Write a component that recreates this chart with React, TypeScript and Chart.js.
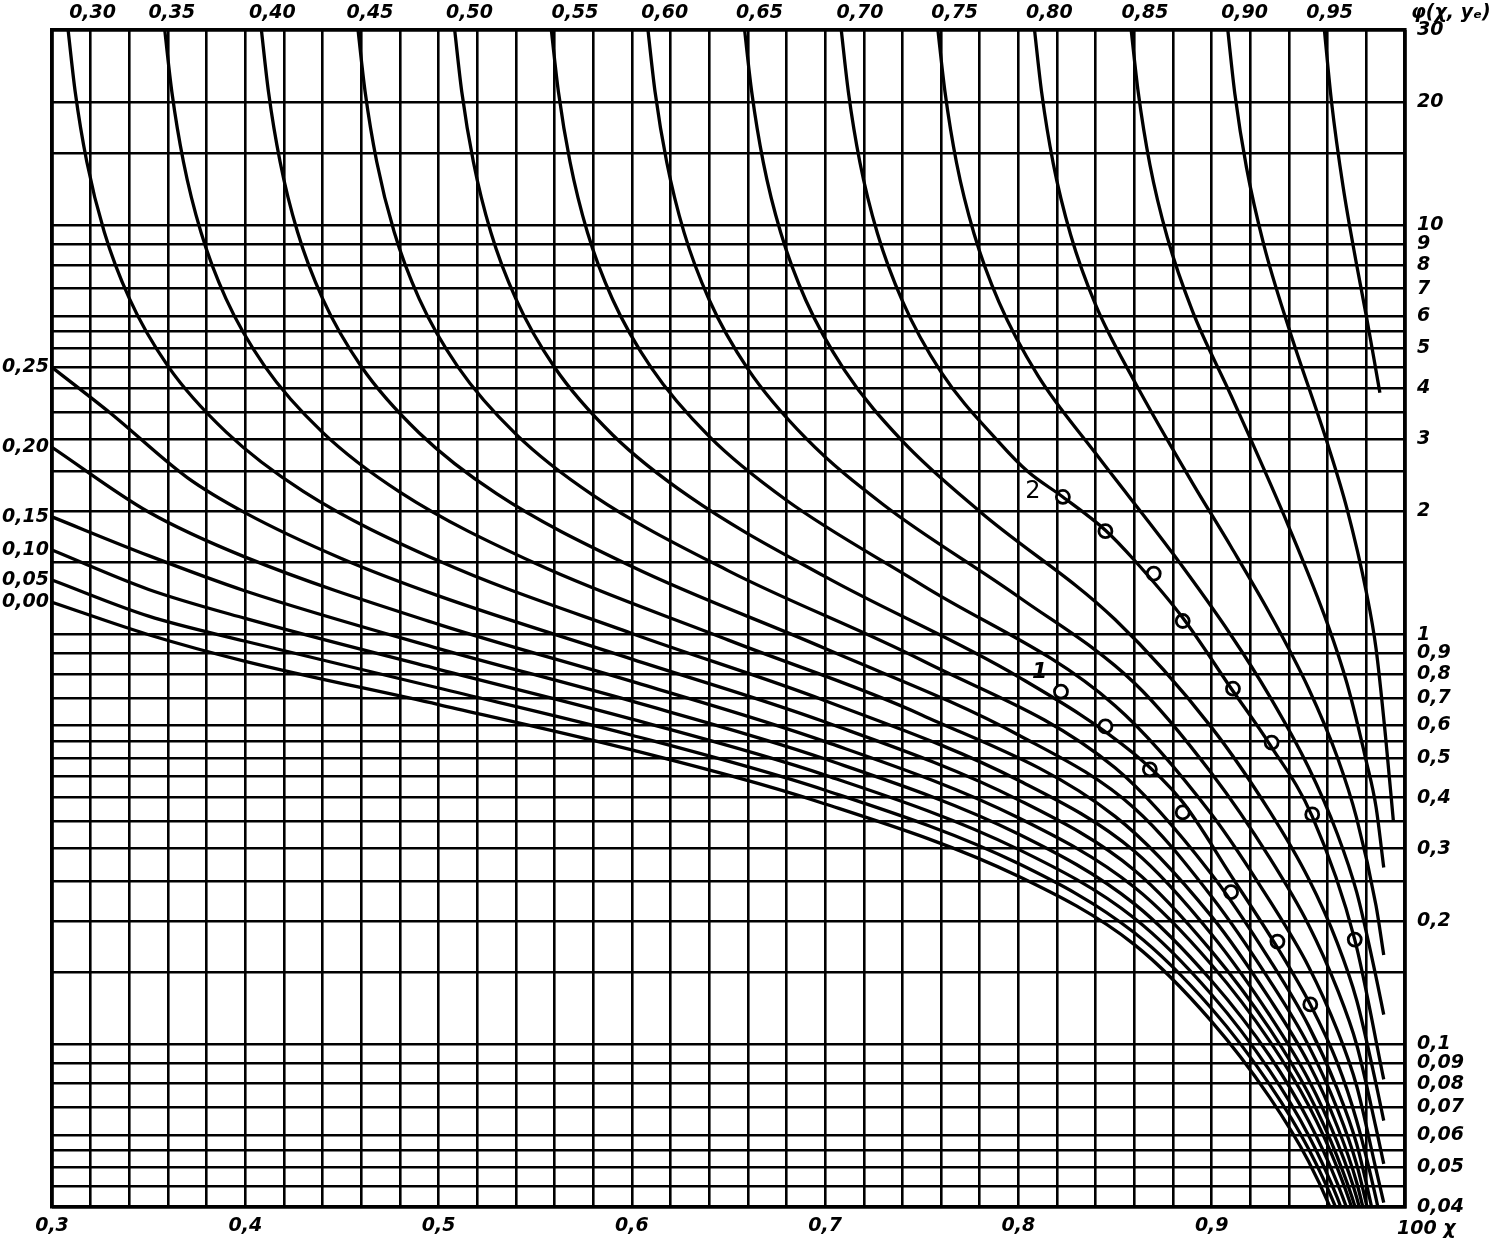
import React, { useEffect, useRef } from 'react';
import { Chart, registerables } from 'chart.js';

Chart.register(...registerables);

// ---- axis values ----
const X_MIN = 0.3;
const X_MAX = 1.0;
const Y_MIN = 0.04;
const Y_MAX = 30;

const GRID_X = [0.30, 0.32, 0.34, 0.36, 0.38, 0.40, 0.42, 0.44, 0.46, 0.48, 0.50, 0.52, 0.54, 0.56, 0.58, 0.60, 0.62, 0.64, 0.66, 0.68, 0.70, 0.72, 0.74, 0.76, 0.78, 0.80, 0.82, 0.84, 0.86, 0.88, 0.90, 0.92, 0.94, 0.96, 0.98, 1.00];
const BOTTOM_TICKS = [0.3, 0.4, 0.5, 0.6, 0.7, 0.8, 0.9];
const BOTTOM_LABELS = ['0,3', '0,4', '0,5', '0,6', '0,7', '0,8', '0,9'];

const GRID_Y = [30, 20, 15, 10, 9, 8, 7, 6, 5.5, 5, 4.5, 4, 3.5, 3, 2.5, 2, 1.5, 1, 0.9, 0.8, 0.7, 0.6, 0.55, 0.5, 0.45, 0.4, 0.35, 0.3, 0.25, 0.2, 0.15, 0.1, 0.09, 0.08, 0.07, 0.06, 0.055, 0.05, 0.045, 0.04];
const RIGHT_TICKS = [30, 20, 10, 9, 8, 7, 6, 5, 4, 3, 2, 1, 0.9, 0.8, 0.7, 0.6, 0.5, 0.4, 0.3, 0.2, 0.1, 0.09, 0.08, 0.07, 0.06, 0.05, 0.04];
const RIGHT_LABELS = ['30', '20', '10', '9', '8', '7', '6', '5', '4', '3', '2', '1', '0,9', '0,8', '0,7', '0,6', '0,5', '0,4', '0,3', '0,2', '0,1', '0,09', '0,08', '0,07', '0,06', '0,05', '0,04'];

const TOP_LABEL_X = [0.321, 0.362, 0.414, 0.4645, 0.516, 0.5706, 0.617, 0.666, 0.718, 0.767, 0.816, 0.8655, 0.917, 0.961];
const TOP_LABELS = ['0,30', '0,35', '0,40', '0,45', '0,50', '0,55', '0,60', '0,65', '0,70', '0,75', '0,80', '0,85', '0,90', '0,95'];

const LEFT_LABEL_Y = [4.5, 2.87, 1.94, 1.61, 1.36, 1.2];
const LEFT_LABELS = ['0,25', '0,20', '0,15', '0,10', '0,05', '0,00'];

// ---- curves phi(x, y_e): [x, phi] ----
const CURVE_000 = [[0.3, 1.2], [0.35, 1.0], [0.4, 0.861], [0.5, 0.675], [0.6, 0.523], [0.7, 0.386], [0.8, 0.257], [0.86, 0.175], [0.9, 0.1135], [0.93, 0.0741], [0.95, 0.0518], [0.965, 0.0362], [0.975, 0.0266]];
const CURVE_005 = [[0.3, 1.36], [0.35, 1.11], [0.4, 0.964], [0.5, 0.741], [0.6, 0.568], [0.7, 0.417], [0.8, 0.276], [0.86, 0.187], [0.9, 0.122], [0.93, 0.0796], [0.95, 0.0556], [0.965, 0.039], [0.975, 0.0285]];
const CURVE_010 = [[0.3, 1.61], [0.35, 1.29], [0.4, 1.096], [0.5, 0.823], [0.6, 0.622], [0.7, 0.454], [0.8, 0.299], [0.86, 0.203], [0.9, 0.132], [0.93, 0.0861], [0.95, 0.06], [0.965, 0.0421], [0.975, 0.0308]];
const CURVE_015 = [[0.3, 1.94], [0.35, 1.56], [0.4, 1.279], [0.5, 0.925], [0.6, 0.688], [0.7, 0.497], [0.8, 0.326], [0.86, 0.22], [0.9, 0.1426], [0.93, 0.0935], [0.95, 0.0651], [0.965, 0.0457], [0.975, 0.0335], [0.985, 0.0211]];
const CURVE_020 = [[0.3, 2.87], [0.35, 1.994], [0.4, 1.547], [0.5, 1.06], [0.6, 0.769], [0.7, 0.548], [0.8, 0.357], [0.86, 0.2415], [0.9, 0.156], [0.93, 0.1017], [0.95, 0.071], [0.965, 0.0498], [0.975, 0.0364], [0.985, 0.023]];
const CURVE_025 = [[0.3, 4.5], [0.33, 3.485], [0.37, 2.42], [0.4, 1.984], [0.45, 1.533], [0.5, 1.244], [0.6, 0.872], [0.7, 0.612], [0.8, 0.395], [0.86, 0.266], [0.9, 0.1685], [0.93, 0.1089], [0.95, 0.0758], [0.965, 0.053], [0.975, 0.0388], [0.985, 0.0244]];
const CURVE_030 = [[0.308, 31], [0.312, 21.2], [0.318, 14.3], [0.327, 9.65], [0.34, 6.63], [0.36, 4.53], [0.39, 3.13], [0.43, 2.24], [0.5, 1.515], [0.6, 1.007], [0.7, 0.69], [0.8, 0.441], [0.86, 0.296], [0.9, 0.1853], [0.93, 0.1176], [0.95, 0.0821], [0.965, 0.0575], [0.975, 0.0422], [0.985, 0.0266]];
const CURVE_035 = [[0.358, 31], [0.362, 21.2], [0.368, 14.3], [0.377, 9.64], [0.39, 6.62], [0.41, 4.53], [0.44, 3.12], [0.48, 2.23], [0.55, 1.494], [0.65, 0.97], [0.75, 0.637], [0.85, 0.36], [0.9, 0.2048], [0.93, 0.1289], [0.95, 0.09], [0.965, 0.0629], [0.975, 0.0459], [0.985, 0.0289]];
const CURVE_040 = [[0.408, 31], [0.412, 21.2], [0.418, 14.3], [0.427, 9.64], [0.44, 6.62], [0.46, 4.52], [0.49, 3.11], [0.53, 2.21], [0.6, 1.467], [0.7, 0.925], [0.8, 0.569], [0.86, 0.377], [0.9, 0.229], [0.93, 0.1429], [0.95, 0.0994], [0.965, 0.0694], [0.975, 0.0508], [0.985, 0.032], [0.989, 0.0264]];
const CURVE_045 = [[0.458, 31], [0.462, 21.2], [0.468, 14.3], [0.477, 9.64], [0.49, 6.61], [0.51, 4.51], [0.54, 3.09], [0.58, 2.19], [0.65, 1.432], [0.75, 0.866], [0.85, 0.473], [0.9, 0.2597], [0.93, 0.1606], [0.95, 0.1111], [0.965, 0.0776], [0.975, 0.057], [0.985, 0.0358], [0.989, 0.0294]];
const CURVE_050 = [[0.508, 31], [0.512, 21.2], [0.518, 14.3], [0.527, 9.63], [0.54, 6.61], [0.56, 4.5], [0.59, 3.08], [0.63, 2.17], [0.7, 1.386], [0.8, 0.789], [0.86, 0.511], [0.885, 0.39], [0.91, 0.258], [0.934, 0.172], [0.951, 0.125], [0.965, 0.09], [0.975, 0.065], [0.985, 0.042], [0.989, 0.034]];
const CURVE_055 = [[0.558, 31], [0.562, 21.2], [0.568, 14.3], [0.577, 9.62], [0.59, 6.6], [0.61, 4.49], [0.64, 3.05], [0.68, 2.13], [0.75, 1.324], [0.85, 0.671], [0.9, 0.364], [0.93, 0.224], [0.95, 0.155], [0.965, 0.108], [0.975, 0.079], [0.985, 0.0494], [0.989, 0.041]];
const CURVE_060 = [[0.608, 31], [0.612, 21.2], [0.618, 14.3], [0.627, 9.61], [0.64, 6.58], [0.66, 4.46], [0.69, 3.02], [0.73, 2.08], [0.8, 1.238], [0.86, 0.762], [0.9, 0.458], [0.93, 0.285], [0.95, 0.196], [0.965, 0.136], [0.975, 0.0996], [0.985, 0.0624], [0.989, 0.051]];
const CURVE_065 = [[0.658, 31], [0.662, 21.2], [0.668, 14.25], [0.677, 9.6], [0.69, 6.56], [0.71, 4.43], [0.74, 2.97], [0.78, 2.0], [0.85, 1.089], [0.9, 0.593], [0.93, 0.37], [0.95, 0.254], [0.965, 0.1765], [0.975, 0.128], [0.985, 0.08], [0.989, 0.065]];
const CURVE_070 = [[0.708, 31], [0.712, 21.2], [0.718, 14.24], [0.727, 9.58], [0.74, 6.53], [0.76, 4.38], [0.79, 2.95], [0.805, 2.5], [0.823, 2.17], [0.845, 1.8], [0.86, 1.52], [0.885, 1.1], [0.91, 0.74], [0.93, 0.54], [0.952, 0.36], [0.974, 0.18], [0.989, 0.082]];
const CURVE_075 = [[0.758, 31], [0.762, 21.2], [0.768, 14.2], [0.777, 9.55], [0.79, 6.48], [0.81, 4.3], [0.84, 2.77], [0.88, 1.576], [0.91, 0.997], [0.93, 0.707], [0.95, 0.475], [0.965, 0.326], [0.975, 0.235], [0.985, 0.146], [0.989, 0.118]];
const CURVE_080 = [[0.808, 31], [0.812, 21.15], [0.818, 14.17], [0.827, 9.48], [0.84, 6.38], [0.86, 4.16], [0.89, 2.35], [0.91, 1.64], [0.93, 1.127], [0.95, 0.741], [0.965, 0.502], [0.975, 0.356], [0.985, 0.218], [0.989, 0.165]];
const CURVE_085 = [[0.858, 31], [0.862, 21.1], [0.868, 14.08], [0.877, 9.35], [0.89, 6.18], [0.91, 3.84], [0.94, 1.83], [0.96, 1.06], [0.97, 0.76], [0.98, 0.49], [0.985, 0.38], [0.989, 0.27]];
const CURVE_090 = [[0.908, 31], [0.912, 20.9], [0.918, 13.83], [0.927, 8.95], [0.94, 5.59], [0.96, 2.92], [0.97, 2.03], [0.98, 1.27], [0.985, 0.927], [0.99, 0.56], [0.994, 0.35]];
const CURVE_095 = [[0.958, 31], [0.962, 20.0], [0.968, 12.4], [0.975, 8.0], [0.98, 6.0], [0.984, 4.7], [0.987, 3.9]];

// ---- experimental points ----
const POINTS_2_X = [0.823, 0.845, 0.870, 0.885, 0.911, 0.931, 0.952, 0.974];
const POINTS_2_Y = [2.17, 1.79, 1.41, 1.08, 0.738, 0.545, 0.364, 0.18];
const POINTS_1_X = [0.822, 0.845, 0.868, 0.885, 0.910, 0.934, 0.951];
const POINTS_1_Y = [0.726, 0.597, 0.469, 0.368, 0.235, 0.178, 0.125];

const CURVES = [CURVE_000, CURVE_005, CURVE_010, CURVE_015, CURVE_020, CURVE_025, CURVE_030, CURVE_035, CURVE_040, CURVE_045, CURVE_050, CURVE_055, CURVE_060, CURVE_065, CURVE_070, CURVE_075, CURVE_080, CURVE_085, CURVE_090, CURVE_095];

const near = (a: number, b: number) => Math.abs(a - b) < 1e-6 * Math.max(1, Math.abs(b));

export default function App() {
  const ref = useRef<HTMLCanvasElement>(null);

  useEffect(() => {
    document.body.style.margin = '0';
    const canvas = ref.current;
    if (!canvas) return;

    const font = { family: "'DejaVu Sans', 'Liberation Sans', sans-serif", size: 19, style: 'italic' as const, weight: 'bold' as const };

    const curveSets: any[] = CURVES.map((c) => ({
      type: 'line',
      data: c.map(([x, y]) => ({ x, y })),
      borderColor: '#000',
      borderWidth: 3.3,
      pointRadius: 0,
      cubicInterpolationMode: 'monotone',
      fill: false,
      xAxisID: 'x',
      yAxisID: 'y',
    }));

    const circles = (xs: number[], ys: number[]) => ({
      type: 'line',
      data: xs.map((x, i) => ({ x, y: ys[i] })),
      showLine: false,
      pointRadius: 6.5,
      pointBorderWidth: 2.8,
      pointBackgroundColor: '#fff',
      pointBorderColor: '#000',
      xAxisID: 'x',
      yAxisID: 'y',
    });

    const textPlugin = {
      id: 'nomogramTexts',
      afterDatasetsDraw(chart: any) {
        const ctx = chart.ctx;
        const xs = chart.scales.x;
        const ys = chart.scales.y;
        ctx.save();
        ctx.fillStyle = '#000';
        ctx.textBaseline = 'middle';
        ctx.textAlign = 'center';
        ctx.font = "24px 'DejaVu Sans', sans-serif";
        ctx.fillText('2', xs.getPixelForValue(0.8075), ys.getPixelForValue(2.23));
        ctx.font = "italic bold 22px 'DejaVu Sans', sans-serif";
        ctx.fillText('1', xs.getPixelForValue(0.811), ys.getPixelForValue(0.81));
        ctx.restore();
      },
      afterDraw(chart: any) {
        const ctx = chart.ctx;
        const area = chart.chartArea;
        ctx.save();
        ctx.fillStyle = '#000';
        ctx.textBaseline = 'middle';
        ctx.textAlign = 'left';
        ctx.font = "italic bold 19px 'DejaVu Sans', 'Liberation Sans', sans-serif";
        ctx.fillText('φ(χ, yₑ)', area.right + 6, 13);
        ctx.fillText('100 χ', area.right - 8, area.bottom + 22);
        ctx.restore();
      },
    };

    const chart = new Chart(canvas, {
      type: 'line',
      data: {
        datasets: [...curveSets, circles(POINTS_2_X, POINTS_2_Y), circles(POINTS_1_X, POINTS_1_Y)],
      },
      plugins: [textPlugin],
      options: {
        animation: false,
        responsive: false,
        devicePixelRatio: 1,
        events: [],
        layout: { padding: 0 },
        plugins: { legend: { display: false }, tooltip: { enabled: false } },
        scales: {
          x: {
            type: 'linear',
            position: 'bottom',
            min: X_MIN,
            max: X_MAX,
            afterBuildTicks: (s: any) => {
              s.ticks = GRID_X.map((v) => ({ value: v }));
            },
            afterFit: (s: any) => {
              s.height = 38;
            },
            grid: { color: '#000', lineWidth: 2.6, drawTicks: false },
            border: { display: true, color: '#000', width: 3.6 },
            ticks: {
              autoSkip: false,
              maxRotation: 0,
              padding: 8,
              color: '#000',
              font,
              callback: (v: any) => {
                const i = BOTTOM_TICKS.findIndex((t) => near(Number(v), t));
                return i >= 0 ? BOTTOM_LABELS[i] : '';
              },
            },
          },
          x2: {
            type: 'linear',
            position: 'top',
            min: X_MIN,
            max: X_MAX,
            afterBuildTicks: (s: any) => {
              s.ticks = TOP_LABEL_X.map((v) => ({ value: v }));
            },
            afterFit: (s: any) => {
              s.height = 30;
            },
            grid: { display: false, drawTicks: false },
            border: { display: true, color: '#000', width: 3.6 },
            ticks: {
              autoSkip: false,
              maxRotation: 0,
              padding: 6,
              color: '#000',
              font,
              callback: (_v: any, i: number) => TOP_LABELS[i],
            },
          },
          y: {
            type: 'logarithmic',
            position: 'right',
            min: Y_MIN,
            max: Y_MAX,
            afterBuildTicks: (s: any) => {
              s.ticks = GRID_Y.map((v) => ({ value: v }));
            },
            afterFit: (s: any) => {
              s.width = 91;
            },
            grid: { color: '#000', lineWidth: 2.6, drawTicks: false },
            border: { display: true, color: '#000', width: 3.6 },
            ticks: {
              autoSkip: false,
              padding: 12,
              color: '#000',
              font,
              callback: (v: any) => {
                const i = RIGHT_TICKS.findIndex((t) => near(Number(v), t));
                return i >= 0 ? RIGHT_LABELS[i] : '';
              },
            },
          },
          y2: {
            type: 'logarithmic',
            position: 'left',
            min: Y_MIN,
            max: Y_MAX,
            afterBuildTicks: (s: any) => {
              s.ticks = LEFT_LABEL_Y.map((v) => ({ value: v }));
            },
            afterFit: (s: any) => {
              s.width = 52;
            },
            grid: { display: false, drawTicks: false },
            border: { display: true, color: '#000', width: 3.6 },
            ticks: {
              autoSkip: false,
              padding: 3,
              color: '#000',
              font,
              callback: (_v: any, i: number) => LEFT_LABELS[i],
            },
          },
        },
      } as any,
    });

    return () => chart.destroy();
  }, []);

  return <canvas ref={ref} width={1496} height={1245} style={{ display: 'block' }} />;
}
